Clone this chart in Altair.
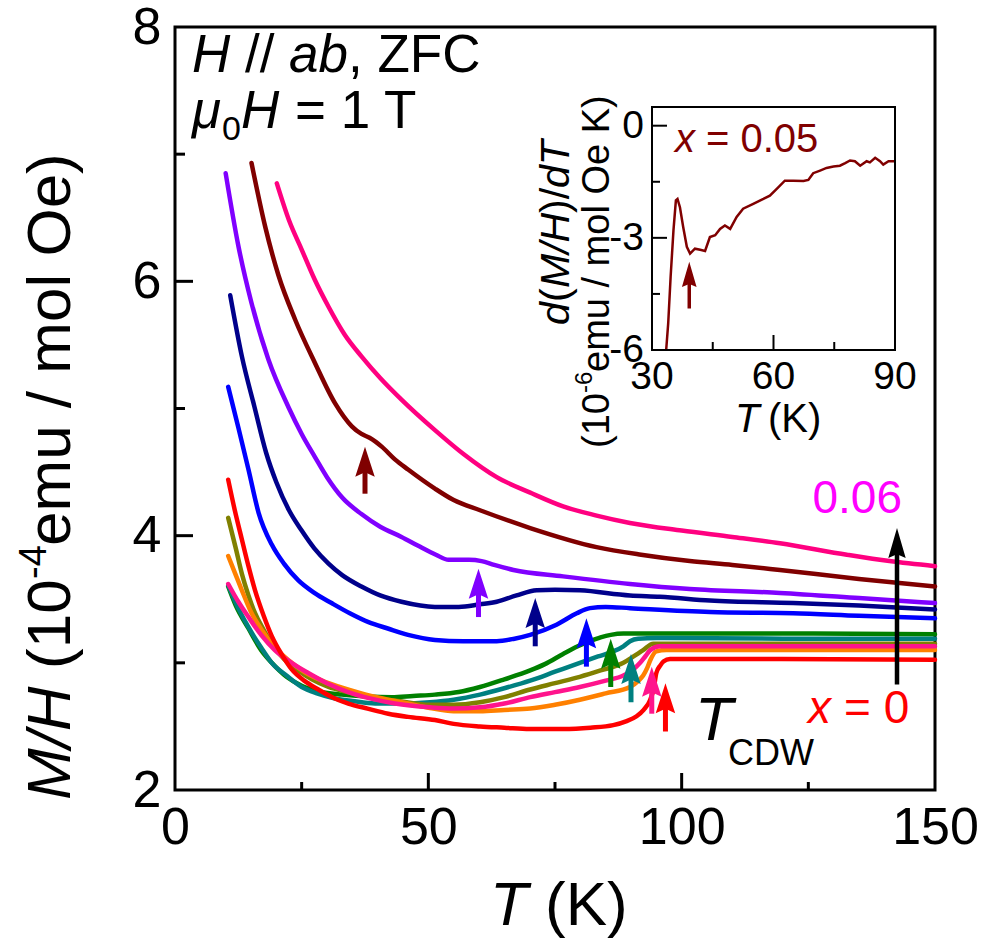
import altair as alt
import pandas as pd

FONT = "Liberation Sans"

# ---------------- main panel: M/H (1e-4 emu/mol Oe) versus T (K) ----------------
T_x006 = [20.1, 22.5, 25.0, 27.5, 30.3, 33.5, 36.8, 40.5, 44.7, 51.3, 57.0, 63.5, 70.0, 76.6,
          83.0, 89.8, 100.0, 110.0, 119.4, 132.6, 141.0, 150.0]
MH_x006 = [6.77, 6.48, 6.25, 6.02, 5.80, 5.58, 5.41, 5.24, 5.07, 4.83, 4.64, 4.46, 4.34, 4.23,
           4.16, 4.10, 4.04, 3.99, 3.94, 3.85, 3.80, 3.76]

T_x005 = [15.1, 17.8, 20.4, 23.7, 27.6, 31.6, 34.9, 36.8, 38.4, 40.8, 43.4, 46.0, 51.3, 55.0,
          60.2, 70.1, 83.2, 92.0, 101.6, 110.0, 119.4, 135.0, 150.0]
MH_x005 = [6.93, 6.43, 6.05, 5.70, 5.36, 5.04, 4.86, 4.80, 4.77, 4.70, 4.60, 4.52, 4.37, 4.28,
           4.20, 4.06, 3.91, 3.85, 3.80, 3.77, 3.73, 3.66, 3.60]

T_x004 = [10.0, 12.5, 15.1, 18.4, 22.4, 25.0, 27.6, 30.0, 33.0, 36.8, 40.5, 44.7, 48.0, 51.5,
          54.0, 58.0, 60.5, 63.0, 66.8, 76.6, 89.8, 101.6, 119.4, 135.0, 150.0]
MH_x004 = [6.85, 6.28, 5.83, 5.39, 5.01, 4.80, 4.62, 4.46, 4.30, 4.17, 4.07, 3.99, 3.92, 3.85,
           3.81, 3.81, 3.80, 3.77, 3.73, 3.68, 3.62, 3.58, 3.55, 3.51, 3.47]

T_x0035 = [10.9, 13.2, 15.7, 18.0, 20.0, 22.5, 25.0, 27.5, 30.3, 33.0, 36.8, 40.5, 44.7, 51.3,
           56.0, 60.2, 63.5, 67.4, 71.4, 75.0, 79.9, 89.8, 95.7, 105.6, 122.0, 135.0, 150.0]
MH_x0035 = [5.89, 5.41, 5.01, 4.65, 4.42, 4.20, 4.04, 3.90, 3.78, 3.69, 3.60, 3.53, 3.48, 3.44,
            3.44, 3.46, 3.48, 3.53, 3.57, 3.575, 3.57, 3.53, 3.52, 3.49, 3.47, 3.45, 3.42]

T_x003 = [10.5, 12.5, 14.5, 16.5, 19.1, 21.5, 24.3, 27.5, 30.9, 34.5, 38.2, 42.0, 46.0, 51.3,
          56.9, 63.5, 67.0, 70.1, 75.3, 79.3, 81.9, 85.0, 89.8, 105.6, 122.0, 135.0, 150.0]
MH_x003 = [5.17, 4.85, 4.52, 4.18, 3.93, 3.78, 3.65, 3.55, 3.47, 3.39, 3.32, 3.27, 3.22, 3.18,
           3.17, 3.17, 3.19, 3.22, 3.30, 3.39, 3.43, 3.44, 3.43, 3.40, 3.39, 3.37, 3.35]

T_x0025 = [10.5, 12.0, 14.5, 17.0, 19.1, 22.0, 25.0, 28.0, 32.9, 38.0, 42.8, 47.0, 51.3, 56.0,
           60.2, 65.0, 70.1, 73.0, 76.6, 79.5, 81.9, 84.0, 86.0, 88.5, 95.0, 120.0, 150.0]
MH_x0025 = [3.60, 3.45, 3.27, 3.10, 3.00, 2.89, 2.82, 2.78, 2.75, 2.735, 2.73, 2.74, 2.75, 2.77,
            2.81, 2.87, 2.94, 2.99, 3.07, 3.13, 3.17, 3.20, 3.22, 3.23, 3.23, 3.23, 3.225]

T_x002 = [10.5, 12.0, 14.5, 17.0, 19.1, 22.0, 25.0, 28.0, 31.6, 35.0, 39.5, 45.0, 50.3, 55.0,
          60.2, 65.0, 70.1, 75.0, 79.9, 83.5, 86.5, 88.5, 89.8, 91.4, 95.0, 120.0, 150.0]
MH_x002 = [3.61, 3.47, 3.28, 3.12, 3.00, 2.90, 2.81, 2.76, 2.72, 2.70, 2.68, 2.68, 2.69, 2.71,
           2.75, 2.80, 2.86, 2.93, 3.00, 3.05, 3.09, 3.13, 3.17, 3.19, 3.195, 3.19, 3.19]

T_x0015 = [10.5, 12.0, 13.2, 14.5, 15.8, 17.5, 19.1, 21.5, 24.3, 27.0, 30.3, 34.0, 38.2, 44.0,
           50.3, 55.0, 60.2, 65.0, 70.1, 75.0, 79.9, 84.0, 88.5, 90.5, 92.4, 94.4, 100.0, 150.0]
MH_x0015 = [4.14, 3.90, 3.70, 3.53, 3.39, 3.26, 3.15, 3.03, 2.94, 2.87, 2.81, 2.77, 2.73, 2.70,
            2.67, 2.67, 2.69, 2.73, 2.79, 2.84, 2.89, 2.94, 3.00, 3.05, 3.10, 3.15, 3.15, 3.15]

T_x001 = [10.5, 12.0, 13.2, 15.0, 17.1, 19.5, 22.4, 25.5, 29.0, 32.5, 36.8, 41.0, 46.0, 50.3,
          55.0, 60.2, 65.0, 70.1, 75.0, 79.9, 85.0, 89.8, 91.5, 92.4, 93.2, 93.8, 95.0, 97.0, 150.0]
MH_x001 = [3.84, 3.69, 3.57, 3.40, 3.26, 3.13, 3.02, 2.93, 2.86, 2.81, 2.76, 2.72, 2.68, 2.645,
           2.62, 2.62, 2.63, 2.64, 2.67, 2.71, 2.76, 2.81, 2.86, 2.90, 2.96, 3.02, 3.09, 3.10, 3.10]

T_x0005 = [10.5, 12.5, 14.5, 17.0, 19.7, 23.0, 26.3, 30.0, 34.2, 38.5, 43.4, 50.3, 55.0, 60.2,
           65.0, 70.1, 75.0, 79.9, 85.0, 88.5, 90.5, 91.8, 92.8, 93.8, 95.7, 150.0]
MH_x0005 = [3.62, 3.48, 3.36, 3.22, 3.10, 3.00, 2.92, 2.84, 2.77, 2.72, 2.68, 2.65, 2.64, 2.65,
            2.68, 2.73, 2.77, 2.81, 2.86, 2.90, 2.95, 3.00, 3.05, 3.10, 3.13, 3.13]

T_x000 = [10.5, 11.8, 13.2, 14.5, 15.8, 17.5, 19.1, 21.0, 23.0, 25.5, 28.3, 31.0, 34.2, 38.0,
          42.1, 46.0, 51.3, 55.0, 60.2, 65.0, 70.0, 76.6, 82.0, 86.5, 89.0, 91.1, 92.5, 93.8,
          94.5, 95.0, 95.8, 96.4, 97.7, 110.0, 150.0]
MH_x000 = [4.44, 4.20, 3.97, 3.76, 3.57, 3.37, 3.21, 3.07, 2.95, 2.86, 2.79, 2.73, 2.68, 2.64,
           2.60, 2.575, 2.55, 2.52, 2.50, 2.49, 2.48, 2.48, 2.49, 2.51, 2.54, 2.58, 2.63, 2.71,
           2.80, 2.92, 2.98, 3.01, 3.03, 3.03, 3.025]

# drawing order: back to front
series = [
    ("0.06", "#FF0080", T_x006, MH_x006),
    ("0.05", "#800000", T_x005, MH_x005),
    ("0.04", "#8000FF", T_x004, MH_x004),
    ("0.035", "#00008B", T_x0035, MH_x0035),
    ("0.03", "#0000FF", T_x003, MH_x003),
    ("0.025", "#008000", T_x0025, MH_x0025),
    ("0.02", "#008080", T_x002, MH_x002),
    ("0.015", "#808000", T_x0015, MH_x0015),
    ("0.01", "#FF8000", T_x001, MH_x001),
    ("0.005", "#FF148C", T_x0005, MH_x0005),
    ("0", "#FF0000", T_x000, MH_x000),
]
series_names = [s[0] for s in series]
series_colors = [s[1] for s in series]

# T_CDW arrows: composition, T, tail and tip of the arrow in M/H units
arrow_series = ["0.05", "0.04", "0.035", "0.03", "0.025", "0.02", "0.005", "0"]
arrow_T = [37.5, 59.9, 71.1, 81.2, 86.0, 90.0, 94.1, 96.8]
arrow_tail = [4.33, 3.36, 3.13, 2.97, 2.81, 2.69, 2.60, 2.46]
arrow_tip = [4.70, 3.74, 3.51, 3.35, 3.19, 3.07, 2.97, 2.84]

# doping-direction arrow (x = 0 -> 0.06)
dop_T = [142.5]
dop_tail = [2.83]
dop_tip = [4.06]

main_x_labels = [0, 50, 100, 150]
main_y_labels = [2, 4, 6, 8]
main_x_major = [50, 100]
main_x_minor = [25, 75, 125]
main_y_major = [4, 6]
main_y_minor = [3, 5, 7]

# ---------------- inset: d(M/H)/dT for x = 0.05 ----------------
T_inset = [33.5, 34.0, 34.6, 35.3, 35.9, 36.3, 36.9, 37.7, 38.6, 39.4, 40.6, 41.9, 43.1, 44.3,
           45.6, 46.8, 48.0, 49.3, 50.9, 52.5, 55.0, 57.5, 59.1, 60.8, 62.8, 64.9, 67.4, 68.6,
           69.8, 71.5, 73.1, 74.8, 76.4, 77.7, 78.9, 80.1, 81.4, 83.0, 83.8, 85.1, 86.3, 87.1,
           88.4, 90.0]
dMH_inset = [-6.0, -5.29, -4.04, -2.80, -2.0, -1.96, -2.18, -2.71, -3.24, -3.42, -3.29, -3.32,
             -3.35, -2.98, -2.93, -2.76, -2.67, -2.76, -2.44, -2.22, -2.09, -1.96, -1.87, -1.69,
             -1.47, -1.47, -1.48, -1.45, -1.27, -1.20, -1.13, -1.09, -1.07, -1.00, -0.93, -0.95,
             -1.07, -0.95, -0.98, -0.86, -0.95, -1.04, -0.95, -0.95]
inset_arrow_T = [39.2]
inset_arrow_tail = [-4.89]
inset_arrow_tip = [-3.64]
inset_x_labels = [30, 60, 90]
inset_y_labels = [0, -3, -6]
inset_x_major = [60]
inset_x_minor = [45, 75]
inset_y_major = [0, -3]
inset_y_minor = [-1.5, -4.5]

# ---------------- layout (pixels) ----------------
W, H = 760, 763
IX0, IX1 = 477, 720          # inset plot area, left/right
IY0, IY1 = 80, 323           # inset plot area, top/bottom
# arrow heads: tip at the origin, pointing up (path units scale with sqrt(size)/2)
ARROW_HEAD = "M0,0L0.65,2L0,1.7L-0.65,2Z"
ARROW_HEAD_SLIM = "M0,0L0.58,2L0,1.75L-0.58,2Z"

curve_df = pd.concat(
    [pd.DataFrame({"series": n, "T": t, "MH": m}) for n, _, t, m in series],
    ignore_index=True,
)
arrow_df = pd.DataFrame({"series": arrow_series, "T": arrow_T,
                         "tail": arrow_tail, "tip": arrow_tip})
dop_df = pd.DataFrame({"T": dop_T, "tail": dop_tail, "tip": dop_tip})
inset_df = pd.DataFrame({"T": T_inset, "d": dMH_inset})
inset_arrow_df = pd.DataFrame({"T": inset_arrow_T, "tail": inset_arrow_tail,
                               "tip": inset_arrow_tip})

x_scale = alt.Scale(domain=[0, 150], nice=False, zero=False)
y_scale = alt.Scale(domain=[2, 8], nice=False, zero=False)
color_scale = alt.Scale(domain=series_names, range=series_colors)

x_axis = alt.Axis(values=main_x_labels, ticks=False, domain=False, grid=False, title=None,
                  labelFontSize=52, labelFont=FONT, labelColor="black", labelPadding=12,
                  labelFlush=False)
y_axis = alt.Axis(values=main_y_labels, ticks=False, domain=False, grid=False, title=None,
                  labelFontSize=52, labelFont=FONT, labelColor="black", labelPadding=14,
                  labelFlush=False)


def mx(field):
    return alt.X(field, type="quantitative", scale=x_scale, axis=x_axis)


def my(field):
    return alt.Y(field, type="quantitative", scale=y_scale, axis=y_axis)


main_layers = []
for name, color, _, _ in series:
    main_layers.append(
        alt.Chart(curve_df).transform_filter(alt.datum.series == name)
        .mark_line(strokeWidth=4.5, interpolate="monotone", strokeCap="round")
        .encode(x=mx("T"), y=my("MH"), color=alt.value(color))
    )

# T_CDW arrows
main_layers.append(
    alt.Chart(arrow_df).mark_rule(strokeWidth=5, y2Offset=16)
    .encode(x=mx("T"), y=my("tail"), y2="tip:Q",
            color=alt.Color("series:N", scale=color_scale, legend=None))
)
main_layers.append(
    alt.Chart(arrow_df).mark_point(shape=ARROW_HEAD, size=900, filled=True, opacity=1,
                                   strokeWidth=0)
    .encode(x=mx("T"), y=my("tip"),
            color=alt.Color("series:N", scale=color_scale, legend=None))
)
main_layers.append(
    alt.Chart(dop_df).mark_rule(strokeWidth=4.5, y2Offset=18, color="black")
    .encode(x=mx("T"), y=my("tail"), y2="tip:Q")
)
main_layers.append(
    alt.Chart(dop_df).mark_point(shape=ARROW_HEAD_SLIM, size=900, filled=True,
                                 opacity=1, strokeWidth=0, color="black")
    .encode(x=mx("T"), y=my("tip"))
)

# inward ticks of the main frame
for vals, ln in [(main_x_major, 17), (main_x_minor, 8)]:
    main_layers.append(
        alt.Chart(pd.DataFrame({"tick": vals})).mark_rule(strokeWidth=3, color="black")
        .encode(x=mx("tick"), y=alt.value(H), y2=alt.value(H - ln))
    )
for vals, ln in [(main_y_major, 18), (main_y_minor, 10)]:
    main_layers.append(
        alt.Chart(pd.DataFrame({"tick": vals})).mark_rule(strokeWidth=3, color="black")
        .encode(y=my("tick"), x=alt.value(0), x2=alt.value(ln))
    )

main = alt.layer(*main_layers)

# ---------------- inset layers ----------------
ix_scale = alt.Scale(domain=[30, 90], range=[IX0, IX1], nice=False, zero=False)
iy_scale = alt.Scale(domain=[-6, 0.5], range=[IY1, IY0], nice=False, zero=False)


def ix(field):
    return alt.X(field, type="quantitative", scale=ix_scale, axis=None)


def iy(field):
    return alt.Y(field, type="quantitative", scale=iy_scale, axis=None)


one = pd.DataFrame({"_": [0]})
INSET_RED = "#800000"
inset_layers = [
    alt.Chart(one).mark_rect(fill="white", stroke=None)
    .encode(x=alt.value(IX0), x2=alt.value(IX1), y=alt.value(IY0), y2=alt.value(IY1)),
    alt.Chart(inset_df).mark_line(strokeWidth=2.5, color=INSET_RED)
    .encode(x=ix("T"), y=iy("d")),
    alt.Chart(inset_arrow_df).mark_rule(strokeWidth=3.5, y2Offset=14, color=INSET_RED)
    .encode(x=ix("T"), y=iy("tail"), y2="tip:Q"),
    alt.Chart(inset_arrow_df).mark_point(shape=ARROW_HEAD_SLIM, size=640,
                                         filled=True, opacity=1, strokeWidth=0, color=INSET_RED)
    .encode(x=ix("T"), y=iy("tip")),
    alt.Chart(one).mark_rect(fill=None, stroke="black", strokeWidth=2)
    .encode(x=alt.value(IX0), x2=alt.value(IX1), y=alt.value(IY0), y2=alt.value(IY1)),
]
for vals, ln in [(inset_x_major, 15), (inset_x_minor, 8)]:
    inset_layers.append(
        alt.Chart(pd.DataFrame({"tick": vals})).mark_rule(strokeWidth=2, color="black")
        .encode(x=ix("tick"), y=alt.value(IY1), y2=alt.value(IY1 - ln))
    )
for vals, ln in [(inset_y_major, 15), (inset_y_minor, 8)]:
    inset_layers.append(
        alt.Chart(pd.DataFrame({"tick": vals})).mark_rule(strokeWidth=2, color="black")
        .encode(y=iy("tick"), x=alt.value(IX0), x2=alt.value(IX0 + ln))
    )
inset_layers.append(
    alt.Chart(pd.DataFrame({"v": inset_x_labels, "lab": [str(v) for v in inset_x_labels]}))
    .mark_text(font=FONT, fontSize=39, baseline="top", align="center", color="black")
    .encode(x=ix("v"), y=alt.value(IY1 + 8), text="lab:N")
)
inset_layers.append(
    alt.Chart(pd.DataFrame({"v": inset_y_labels, "lab": [str(v) for v in inset_y_labels]}))
    .mark_text(font=FONT, fontSize=39, baseline="middle", align="right", color="black")
    .encode(y=iy("v"), x=alt.value(IX0 - 8), text="lab:N")
)
inset = alt.layer(*inset_layers)


# ---------------- text annotations ----------------
def label(s, x, y, size, color="black", italic=False, angle=0, align="left",
          baseline="alphabetic"):
    return (
        alt.Chart(one)
        .mark_text(text=s, font=FONT, fontSize=size, color=color,
                   fontStyle="italic" if italic else "normal", angle=angle,
                   align=align, baseline=baseline)
        .encode(x=alt.value(x), y=alt.value(y))
    )


texts = [
    # axis titles
    label("T", 315, 898, 62, italic=True),
    label("(K)", 370, 898, 62),
    label("M/H", -105, 773, 62, italic=True, angle=270),
    label("(10", -105, 642, 62, angle=270),
    label("-4", -129, 552, 38, angle=270),
    label("emu / mol Oe)", -105, 519, 62, angle=270),
    # measurement conditions
    label("H", 17, 45, 53, italic=True),
    label("//", 70, 45, 53),
    label("ab", 114, 45, 53, italic=True),
    label(", ZFC", 173, 45, 53),
    label("\u03bc", 17, 101, 53, italic=True),
    label("0", 47, 113, 34),
    label("H", 66, 101, 53, italic=True),
    label("= 1 T", 120, 101, 53),
    # curve labels
    label("0.06", 727, 486, 46, color="#FF00FF", align="right"),
    label("x", 633, 696, 46, color="#FF0000", italic=True),
    label("= 0", 669, 696, 46, color="#FF0000"),
    label("T", 520, 713, 62, italic=True),
    label("CDW", 553, 738, 36),
    # inset texts
    label("x", 500, 125, 40, color=INSET_RED, italic=True),
    label("= 0.05", 531, 125, 40, color=INSET_RED),
    label("T", 560, 405, 40, italic=True),
    label("(K)", 593, 405, 40),
    label("d", 394, 298, 41, italic=True, angle=270),
    label("(", 394, 275, 41, angle=270),
    label("M/H", 394, 261, 41, italic=True, angle=270),
    label(")/", 394, 186, 41, angle=270),
    label("dT", 394, 161, 41, italic=True, angle=270),
    label("(10", 434, 421, 38, angle=270),
    label("-6", 417, 366, 24, angle=270),
    label("emu / mol Oe K)", 434, 345, 38, angle=270),
]

chart = (
    alt.layer(main, inset, *texts)
    .resolve_scale(x="independent", y="independent", color="independent")
    .properties(width=W, height=H, autosize="none",
                padding={"left": 175, "top": 27, "right": 50, "bottom": 153},
                background="white")
    .configure_view(stroke="black", strokeWidth=3)
)

chart.save("out.html", embed_options={"renderer": "svg", "actions": False})
